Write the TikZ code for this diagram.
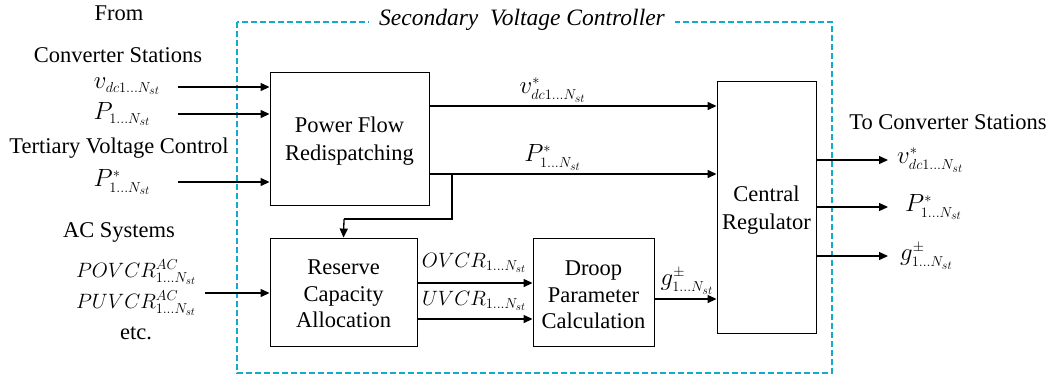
\documentclass[tikz,border=0pt]{standalone}
\usepackage{fontspec}
\setmainfont{Liberation Serif}
\newfontfamily\tnr{Liberation Serif}
\usetikzlibrary{arrows.meta}
\DeclareMathSizes{22.5}{23}{15.5}{12}
\DeclareMathSizes{21}{21}{14.5}{11}
\definecolor{ctrlcyan}{RGB}{20,170,205}
\begin{document}
\begin{tikzpicture}[x=1pt,y=-1pt,
  every node/.style={font=\tnr\fontsize{22.5}{27.5}\selectfont, inner sep=0pt},
  blk/.style={draw=black, line width=0.9pt, align=center},
  arr/.style={line width=1.3pt, -{Triangle[length=9pt,width=8pt]}},
  wire/.style={line width=1.3pt},
  lbl/.style={align=center},
  smath/.style={font=\tnr\fontsize{21}{25}\selectfont}]
\useasboundingbox (0,0) rectangle (1054,376);
% dashed frame
\draw[ctrlcyan, line width=1.4pt, dash pattern=on 6pt off 3pt] (237,22) rectangle (832,373);
\node[fill=white, inner xsep=10pt, inner ysep=2pt, font=\tnr\fontsize{23.5}{28}\selectfont\itshape] (title) at (522,20) {Secondary\ \ Voltage Controller};
% blocks
\node[blk, minimum width=159pt, minimum height=133pt] (pfr) at (349.5,138.5) {};
\node[lbl] (pfrt) at (349.5,141) {Power Flow\\Redispatching};
\node[blk, minimum width=147pt, minimum height=108pt] (rca) at (343.5,292) {};
\node[lbl, font=\tnr\fontsize{22.5}{26.5}\selectfont] (rcat) at (343.5,294) {Reserve\\Capacity\\Allocation};
\node[blk, minimum width=121pt, minimum height=108pt] (dpc) at (593.5,292) {};
\node[lbl, font=\tnr\fontsize{22.5}{26.5}\selectfont] (dpct) at (593.5,295) {Droop\\Parameter\\Calculation};
\node[blk, minimum width=99pt, minimum height=252pt] (cr) at (766.5,207) {};
\node[lbl] (crt) at (766.5,210) {Central\\Regulator};
% left texts
\node[lbl] (tfrom) at (119,13) {From};
\node[lbl] (tconv) at (118,55) {Converter Stations};
\node[lbl] (ivdc) at (127,86) {$v_{dc1\ldots N_{st}}$};
\node[lbl] (ip) at (122,114) {$P_{1\ldots N_{st}}$};
\node[lbl] (tter) at (119,148) {Tertiary Voltage Control};
\node[lbl] (ipstar) at (122,182) {$P^{*}_{1\ldots N_{st}}$};
\node[lbl] (tac) at (119,232) {AC Systems};
\node[lbl, smath, anchor=base] (ipov) at (136,277) {$POVCR^{AC}_{1\ldots N_{st}}$};
\node[lbl, smath, anchor=base] (ipuv) at (136,308) {$PUVCR^{AC}_{1\ldots N_{st}}$};
\node[lbl] (tetc) at (136,333) {etc.};
% inputs
\coordinate (in1) at (178,87);
\coordinate (in2) at (178,114);
\coordinate (in3) at (178,182);
\coordinate (in4) at (205,293);
\draw[arr] (in1) -- (in1 -| pfr.west);
\draw[arr] (in2) -- (in2 -| pfr.west);
\draw[arr] (in3) -- (in3 -| pfr.west);
\draw[arr] (in4) -- (in4 -| rca.west);
% PFR to CR
\coordinate (o1) at (429,106);
\coordinate (o2) at (429,174);
\draw[arr] (o1) -- (o1 -| cr.west) node[pos=0.43, above=3pt, lbl] (lv) {$v^{*}_{dc1\ldots N_{st}}$};
\draw[arr] (o2) -- (o2 -| cr.west) node[pos=0.43, above=3pt, lbl] (lp) {$P^{*}_{1\ldots N_{st}}$};
% branch to RCA
\coordinate (b1) at (452,174);
\coordinate (b2) at (452,219);
\coordinate (b3) at (344,219);
\draw[wire] (b1) -- (b2) -- (b3);
\draw[arr] (b3) -- (rca.north);
% RCA to DPC
\coordinate (r1) at (417,283);
\coordinate (r2) at (417,319);
\draw[arr] (r1) -- (r1 -| dpc.west);
\draw[arr] (r2) -- (r2 -| dpc.west);
\node[lbl, smath] (lov) at (474,263) {$OVCR_{1\ldots N_{st}}$};
\node[lbl, smath] (luv) at (474,301) {$UVCR_{1\ldots N_{st}}$};
% DPC to CR
\coordinate (d1) at (654,299);
\draw[arr] (d1) -- (d1 -| cr.west);
\node[lbl] (lg) at (687,281) {$g^{\pm}_{1\ldots N_{st}}$};
% outputs
\coordinate (c1) at (816,160);
\coordinate (c2) at (816,207);
\coordinate (c3) at (816,256);
\coordinate (e1) at (888,160);
\coordinate (e2) at (888,207);
\coordinate (e3) at (888,256);
\draw[arr] (c1) -- (e1);
\draw[arr] (c2) -- (e2);
\draw[arr] (c3) -- (e3);
\node[lbl] (tto) at (948,122) {To Converter Stations};
\node[lbl, anchor=west] (ov) at (897,160) {$v^{*}_{dc1\ldots N_{st}}$};
\node[lbl, anchor=west] (op) at (905,207) {$P^{*}_{1\ldots N_{st}}$};
\node[lbl, anchor=west] (og) at (900,256) {$g^{\pm}_{1\ldots N_{st}}$};
\end{tikzpicture}
\end{document}
